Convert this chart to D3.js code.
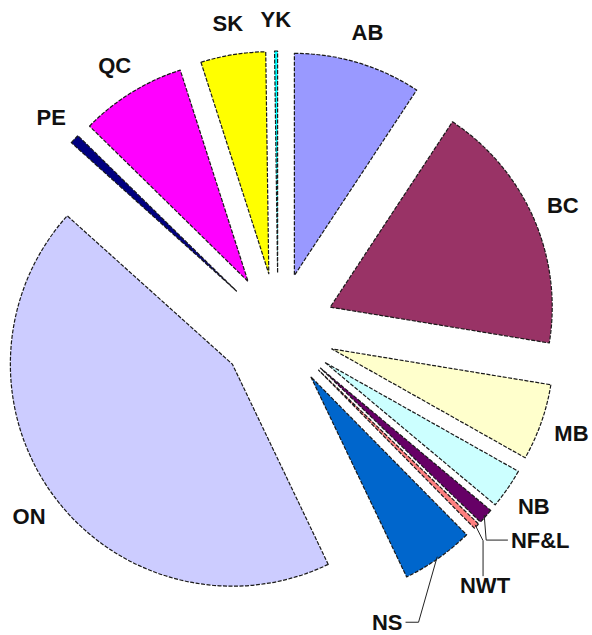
<!DOCTYPE html>
<html>
<head>
<meta charset="utf-8">
<script src="https://cdn.jsdelivr.net/npm/d3@7"></script>
<style>
  body { margin: 0; background: #fff; }
  text { font-family: "Liberation Sans", Arial, sans-serif; font-weight: bold; }
</style>
</head>
<body>
<div id="graph"></div>
<script>
  // provinces / territories, clockwise from 12 o'clock
  const categories = ["AB", "BC", "MB", "NB", "NF&L", "NWT", "NS", "ON", "PE", "QC", "SK", "YK"];
  const values = [9.28, 18.3, 5.58, 2.92, 1.11, 0.42, 5.28, 43.75, 0.69, 7.72, 4.72, 0.22];

  // old excel chart palette
  const palette = ["#9999ff", "#993366", "#ffffcc", "#ccffff", "#660066", "#ff8080",
                   "#0066cc", "#ccccff", "#000080", "#ff00ff", "#ffff00", "#00ffff"];

  width = 592
  height = 635
  cx = 278
  cy = 330
  radius = 222
  explode = 57
  labelRadius = 311

  // labels that sit off the slice with a leader line (angle in degrees)
  const moved = {
    "NF&L": { angle: 128.7, r: 336, leader: "elbow" },
    "NWT":  { angle: 141,   r: 329, leader: "down" },
    "NS":   { angle: 159.5, r: 312, leader: "left" }
  };

  const data = categories.map((c, i) => ({ name: c, value: values[i] }));

  const pie = d3.pie().sort(null).value(d => d.value);
  const arc = d3.arc().innerRadius(0).outerRadius(radius);
  const color = d3.scaleOrdinal().domain(categories).range(palette);

  const polar = (a, r) => [Math.sin(a) * r, -Math.cos(a) * r];

  const svg = d3.select("#graph").append("svg")
      .attr("width", width)
      .attr("height", height)
      .attr("viewBox", [0, 0, width, height]);

  const arcs = pie(data);
  arcs.forEach(d => {
    d.mid = (d.startAngle + d.endAngle) / 2;
    const o = polar(d.mid, explode);
    d.ox = cx + o[0];
    d.oy = cy + o[1];
  });

  svg.append("g")
    .selectAll("path")
    .data(arcs)
    .join("path")
      .attr("transform", d => `translate(${d.ox},${d.oy})`)
      .attr("d", arc)
      .attr("fill", d => color(d.data.name))
      .attr("stroke", "#1a1a1a")
      .attr("stroke-width", 1.2)
      .attr("stroke-dasharray", "4,1.5")
      .attr("stroke-linejoin", "round");

  // label positions
  arcs.forEach(d => {
    const m = moved[d.data.name];
    const a = m ? m.angle * Math.PI / 180 : d.mid;
    const p = polar(a, m ? m.r : labelRadius);
    d.lx = cx + p[0];
    d.ly = cy + p[1];
  });

  const labels = svg.append("g")
    .selectAll("text")
    .data(arcs)
    .join("text")
      .attr("x", d => d.lx)
      .attr("y", d => d.ly)
      .attr("text-anchor", "middle")
      .attr("dominant-baseline", "central")
      .attr("font-size", 22)
      .attr("fill", "#111")
      .text(d => d.data.name);

  // leader lines for the thin slices
  const leaders = [];
  labels.each(function(d) {
    const m = moved[d.data.name];
    if (!m) return;
    const b = this.getBBox();
    const s = polar(d.mid, radius - 2);
    const sx = d.ox + s[0], sy = d.oy + s[1];
    let pts;
    if (m.leader === "elbow") {
      pts = [[sx, sy], [sx + 2, d.ly], [b.x - 3, d.ly]];
    } else if (m.leader === "down") {
      pts = [[sx, sy], [sx + 8, sy + 16], [sx + 8, b.y + 3]];
    } else {
      pts = [[sx, sy], [b.x + b.width + 16, d.ly], [b.x + b.width + 3, d.ly]];
    }
    leaders.push(pts);
  });

  svg.append("g")
    .selectAll("path")
    .data(leaders)
    .join("path")
      .attr("d", d3.line())
      .attr("fill", "none")
      .attr("stroke", "#222")
      .attr("stroke-width", 1);
</script>
</body>
</html>
